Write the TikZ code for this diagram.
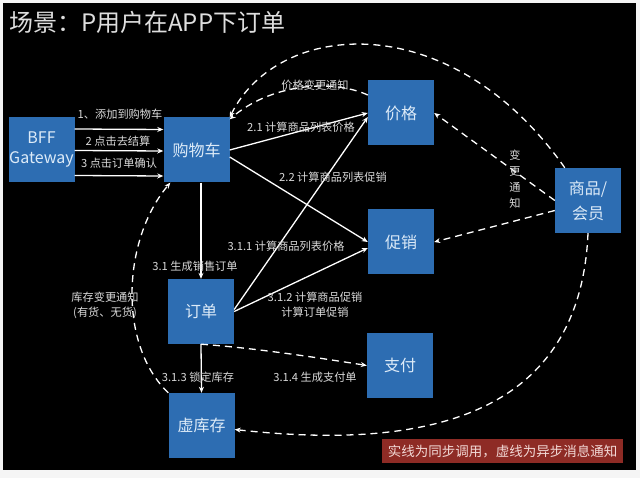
\documentclass[tikz,border=0pt]{standalone}
\usepackage{fontspec}
\setmainfont{Noto Sans CJK SC}
\usetikzlibrary{arrows.meta}
\definecolor{boxblue}{HTML}{2D6DB2}
\definecolor{boxtext}{HTML}{DDEBF8}
\definecolor{lbltext}{HTML}{DADADA}
\definecolor{notered}{HTML}{8E2B25}
\definecolor{notetext}{HTML}{F2D9D6}
\tikzset{
  sbox/.style={fill=boxblue,text=boxtext,minimum width=66pt,minimum height=65pt,align=center,inner sep=0pt,font=\fontsize{16}{25}\selectfont},
  slbl/.style={text=lbltext,align=center,inner sep=1pt,font=\fontsize{11.2}{15}\selectfont},
  syncarr/.style={-{Stealth[length=6pt,width=5pt]},line width=1.3pt,draw=white},
  asyncarr/.style={syncarr,dash pattern=on 7pt off 5pt}
}
\begin{document}
\begin{tikzpicture}[x=1pt,y=-1pt]
  \useasboundingbox (0,0) rectangle (640,478);
  \fill[gray!8] (0,0) rectangle (640,478);
  \fill[black] (3,3) rectangle (636,470);
  \node[anchor=west,text=lbltext!90!white,inner sep=0pt,font=\fontsize{24}{26}\selectfont] (title) at (9,22) {场景：P用户在APP下订单};
  % services
  \node[sbox,font=\fontsize{16}{20}\selectfont] (gw) at (41.5,149.5) {BFF\\Gateway};
  \node[sbox] (cart) at (196.5,150) {购物车};
  \node[sbox] (price) at (401,113) {价格};
  \node[sbox] (promo) at (401,242) {促销};
  \node[sbox] (goods) at (588,200.5) {商品/\\会员};
  \node[sbox] (order) at (201,311.5) {订单};
  \node[sbox] (pay) at (400,365.5) {支付};
  \node[sbox] (stock) at (201.5,425.5) {虚库存};
  \node[fill=notered,text=notetext,minimum width=241pt,minimum height=24pt,inner sep=0pt,font=\fontsize{13.5}{15}\selectfont] (note) at (502.5,451) {实线为同步调用，虚线为异步消息通知};
  % sync calls
  \draw[syncarr] ([yshift=20.5pt]gw.east) -- ([yshift=20.5pt]cart.west);
  \draw[syncarr] ([yshift=-1pt]gw.east) -- ([yshift=-1pt]cart.west);
  \draw[syncarr] ([yshift=-26pt]gw.east) -- ([yshift=-26pt]cart.west);
  \draw[syncarr] (cart.east) -- (price.west);
  \draw[syncarr] ([yshift=-7pt]cart.east) -- (promo.west);
  \draw[syncarr] (order.north |- cart.south) -- (order.north);
  \draw[syncarr] ([yshift=2pt]order.east) -- ([yshift=-4pt]price.west);
  \draw[syncarr] (order.east) -- ([yshift=-6pt]promo.west);
  \draw[syncarr] (order.south) -- (stock.north);
  % async notifications
  \draw[asyncarr] (order.south) .. controls (255,348) and (320,358) .. (pay.west);
  \draw[asyncarr] (goods.west) -- (price.east);
  \draw[asyncarr] ([yshift=-10pt]goods.west) -- (promo.east);
  \draw[asyncarr] ([xshift=10pt]goods.north west) .. controls (450,5) and (278,20) .. (cart.north east);
  \draw[asyncarr] ([yshift=18pt]price.west) .. controls (330,78) and (270,85) .. ([yshift=-2pt]cart.north east);
  \draw[asyncarr] (goods.south) .. controls (580,420) and (420,450) .. ([yshift=-4pt]stock.east);
  \draw[asyncarr] (stock.north west) .. controls (118,345) and (122,240) .. ([xshift=7pt]cart.south west);
  % labels
  \node[slbl] (l1) at (120,114) {1、添加到购物车};
  \node[slbl] (l2) at (118,141) {2 点击去结算};
  \node[slbl] (l3) at (119,163) {3 点击订单确认};
  \node[slbl] (l21) at (301,127) {2.1 计算商品列表价格};
  \node[slbl] (l22) at (333,177) {2.2 计算商品列表促销};
  \node[slbl] (l31) at (195,266) {3.1 生成销售订单};
  \node[slbl] (l311) at (286,246) {3.1.1 计算商品列表价格};
  \node[slbl] (l312) at (315,305) {3.1.2 计算商品促销\\计算订单促销};
  \node[slbl] (l313) at (198,377) {3.1.3 锁定库存};
  \node[slbl] (l314) at (315,377) {3.1.4 生成支付单};
  \node[slbl] (lprice) at (315,85) {价格变更通知};
  \node[slbl,font=\fontsize{11.2}{16}\selectfont] (lchg) at (515,179) {变\\更\\通\\知};
  \node[slbl] (lstock) at (105,305) {库存变更通知\\(有货、无货)};
\end{tikzpicture}
\end{document}
